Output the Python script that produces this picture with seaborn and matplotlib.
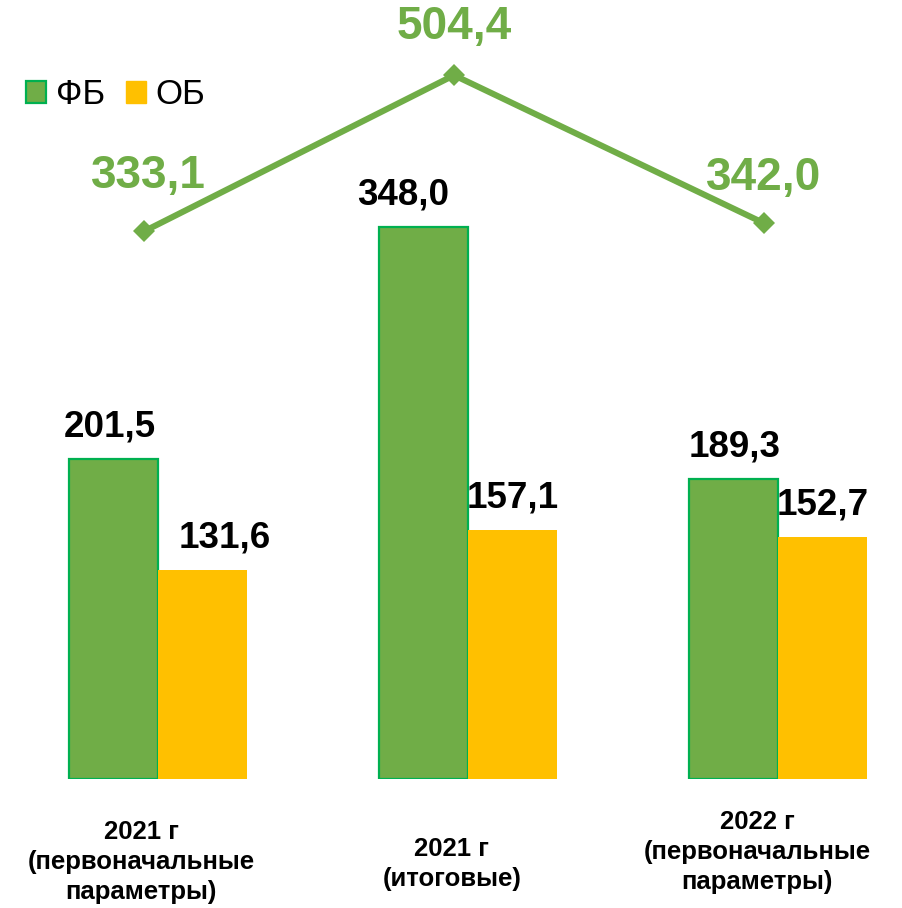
import numpy as np
import pandas as pd
import matplotlib
matplotlib.use("Agg")
import matplotlib.pyplot as plt
from matplotlib.patches import Patch
import seaborn as sns

# Data
categories = ["2021 г\n(первоначальные\nпараметры)", "2021 г\n(итоговые)", "2022 г\n(первоначальные\nпараметры)"]
series = ["ФБ", "ОБ"]
fb_values = [201.5, 348.0, 189.3]
ob_values = [131.6, 157.1, 152.7]
totals = [333.1, 504.4, 342.0]

green = "#70AD47"
green_edge = "#00B050"
yellow = "#FFC000"

sns.set_theme(style="white")
plt.rcParams["font.family"] = ["Liberation Sans", "DejaVu Sans"]
plt.rcParams["text.color"] = "black"

df = pd.DataFrame({
    "cat": categories * 2,
    "series": [series[0]] * 3 + [series[1]] * 3,
    "value": fb_values + ob_values,
})

fig = plt.figure(figsize=(9.02, 9.08), dpi=100)
ax = fig.add_axes([0, 129 / 908, 1, 779 / 908])

sns.barplot(data=df, x="cat", y="value", hue="series", palette=[green, yellow],
            width=0.574, saturation=1, linewidth=0, ax=ax, legend=False)

for bar in ax.containers[0]:
    bar.set_edgecolor(green_edge)
    bar.set_linewidth(1.6)

fmt = lambda v: f"{v:.1f}".replace(".", ",")

# bar value labels (pixel offsets from bar top)
label_dx = [[-4, -20, 1], [22, 0, 0]]
for ci, cont in enumerate(ax.containers):
    for bi, bar in enumerate(cont):
        x = bar.get_x() + bar.get_width() / 2
        h = bar.get_height()
        ax.annotate(fmt(h), xy=(x, h), xytext=(label_dx[ci][bi], 32),
                    textcoords="offset pixels", ha="center", va="center",
                    fontsize=26.5, fontweight="bold", color="black")

# category labels below the bars
cat_dx = [-17, -16, -21]
cat_dy = [-83, -85, -73]
for i, c in enumerate(categories):
    ax.annotate(c, xy=(i, 0), xytext=(cat_dx[i], cat_dy[i]), textcoords="offset pixels",
                ha="center", va="center", fontsize=18.5, fontweight="bold",
                color="black", linespacing=1.32, annotation_clip=False)

ax.set_ylim(0, 491)
ax.set_xlabel("")
ax.set_ylabel("")
ax.set_xticks([])
ax.set_yticks([])
sns.despine(ax=ax, left=True, bottom=True)

# totals line on a secondary axis
ax2 = ax.twinx()
line_x = np.arange(len(totals)) - 0.045
sns.lineplot(x=line_x, y=totals, ax=ax2, color=green, linewidth=4.4,
             marker="D", markersize=11, markeredgewidth=0)
tot_dy = [55, 48, 45]
for i, v in enumerate(totals):
    ax2.annotate(fmt(v), xy=(line_x[i], v), xytext=(4 if i == 0 else 0, tot_dy[i]),
                 textcoords="offset pixels", ha="center", va="center",
                 fontsize=33, fontweight="bold", color=green)
ax2.set_ylim(-268, 587)
ax2.set_yticks([])
ax2.set_ylabel("")
sns.despine(ax=ax2, left=True, bottom=True, right=True)

ax.set_xlim(-158 / 310, 744 / 310)

handles = [Patch(facecolor=green, edgecolor=green_edge, linewidth=1.6),
           Patch(facecolor=yellow, edgecolor=yellow)]
leg = fig.legend(handles, series, loc="center left", bbox_to_anchor=(26 / 902, 1 - 95 / 908),
                 ncol=2, frameon=False, fontsize=25, handlelength=0.58, handleheight=0.58,
                 handletextpad=0.28, columnspacing=0.6, borderpad=0, borderaxespad=0)
for t in leg.get_texts():
    t.set_color("black")

fig.savefig("out.png", dpi=100)
